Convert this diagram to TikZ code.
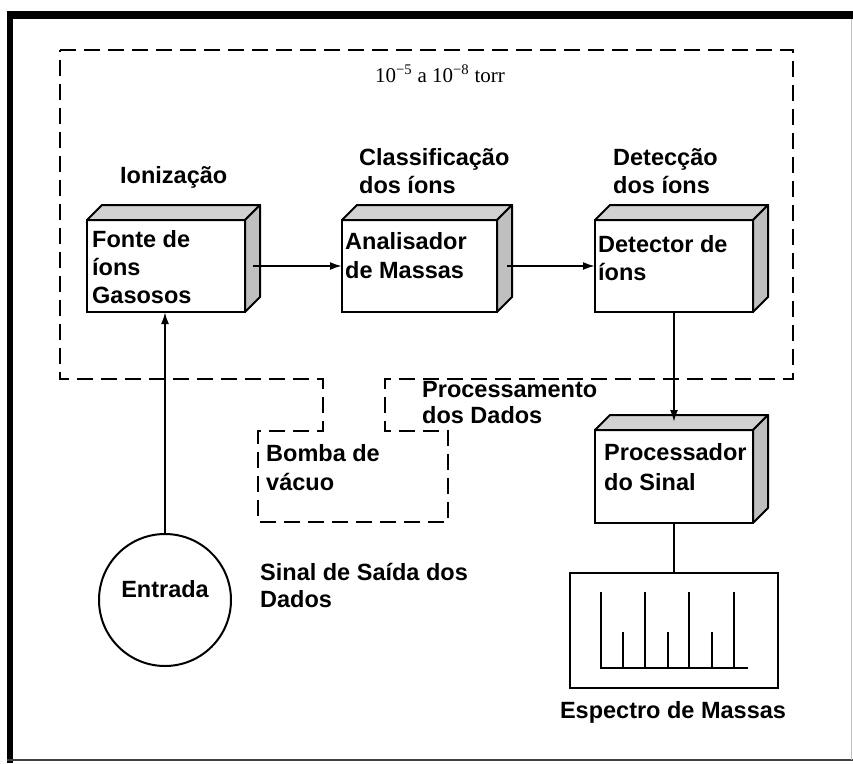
\documentclass[tikz,border=0pt]{standalone}
\usepackage{fontspec}
\setmainfont{Liberation Sans}
\newfontfamily\torrfont{Liberation Serif}
\usetikzlibrary{arrows.meta,calc}
\begin{document}
\begin{tikzpicture}[x=1pt,y=-1pt,
  box/.style={draw,line width=2pt,fill=white,anchor=north west,inner sep=0pt,outer sep=0pt},
  topface/.style={draw,line width=2pt,fill=gray!35,line join=round},
  sideface/.style={draw,line width=2pt,fill=gray!50,line join=round},
  lbl/.style={anchor=base west,inner sep=0pt,font=\fontsize{23.5}{28}\selectfont\bfseries},
  conn/.style={line width=2pt,-{Latex[length=12pt,width=8pt]}},
  plain/.style={line width=2pt},
  vac/.style={line width=2.5pt,dash pattern=on 16pt off 8pt,line join=miter},
]
\useasboundingbox (0,0) rectangle (853,763);
\fill[white] (0,0) rectangle (853,763);
% outer frame
\fill[black] (7,11) rectangle (853,19);
\fill[black] (7,11) rectangle (13,763);
\draw[black!75,line width=2pt] (7,760) -- (853,760);
\draw[black!25,line width=1pt] (851,19) -- (851,760);
% vacuum boundary
\draw[vac] (60,50) -- (793,50) -- (793,379) -- (385,379) -- (385,431) -- (448,431) -- (448,522) -- (258,522) -- (258,431) -- (323,431) -- (323,379) -- (60,379) -- cycle;
\node[anchor=base,inner sep=0pt,font=\torrfont\fontsize{21}{24}\selectfont] (torr) at (440,82) {10\textsuperscript{\char"2212 5} a 10\textsuperscript{\char"2212 8} torr};
% boxes
\node[box,minimum width=158pt,minimum height=92pt] (fonte) at (87,220) {};
\node[box,minimum width=155pt,minimum height=92pt] (anal) at (342,220) {};
\node[box,minimum width=158pt,minimum height=92pt] (det) at (595,220) {};
\node[box,minimum width=158pt,minimum height=93pt] (proc) at (595,430) {};
\foreach \n in {fonte,anal,det,proc}{
  \filldraw[topface] (\n.north west) -- ++(15,-15) -- ([shift={(15,-15)}]\n.north east) -- (\n.north east) -- cycle;
  \filldraw[sideface] (\n.north east) -- ++(15,-15) -- ([shift={(15,-15)}]\n.south east) -- (\n.south east) -- cycle;
}
% labels
\node[lbl] (ioniz) at (120,183) {Ionização};
\node[lbl] (classA) at (359,165) {Classificação};
\node[lbl] (classB) at (359,193) {dos íons};
\node[lbl] (detecA) at (613,165) {Detecção};
\node[lbl] (detecB) at (613,193) {dos íons};
\node[lbl] (fonteA) at (92,247) {Fonte de};
\node[lbl] (fonteB) at (92,275) {íons};
\node[lbl] (fonteC) at (92,303) {Gasosos};
\node[lbl] (analA) at (345,249) {Analisador};
\node[lbl] (analB) at (345,278) {de Massas};
\node[lbl] (detA) at (598,252) {Detector de};
\node[lbl] (detB) at (598,280) {íons};
\node[lbl] (procA) at (604,460) {Processador};
\node[lbl] (procB) at (604,490) {do Sinal};
\node[lbl] (bombaA) at (266,461) {Bomba de};
\node[lbl] (bombaB) at (266,490) {vácuo};
\node[lbl] (procdA) at (422,397) {Processamento};
\node[lbl] (procdB) at (422,423) {dos Dados};
\node[lbl] (sinalA) at (260,580) {Sinal de Saída dos};
\node[lbl] (sinalB) at (260,607) {Dados};
% entrada
\node[circle,draw,line width=2pt,minimum size=132pt,inner sep=0pt,outer sep=0pt] (entrada) at (165,600) {};
\node[lbl,anchor=base] (entradaT) at (165,597) {Entrada};
% spectrum
\node[draw,line width=2pt,minimum width=208pt,minimum height=115pt,anchor=north west,inner sep=0pt,outer sep=0pt] (spec) at (570,573) {};
\node[lbl,anchor=base] (specT) at (673,718) {Espectro de Massas};
\draw[plain] (600,668) -- (748,668);
\foreach \a/\b in {601/592,623/632,645/592,668/632,689/592,712/632,734/592}
  \draw[plain] (\a,668) -- (\a,\b);
% connectors
\draw[conn] ([xshift=8pt]fonte.east) -- (anal.west);
\draw[conn] ([xshift=10pt]anal.east) -- (det.west);
\draw[conn] (det.south) -- ([yshift=8pt]proc.north);
\draw[conn] (entrada.north) -- (entrada.north |- fonte.south);
\draw[plain] (proc.south) -- (spec.north);
\end{tikzpicture}
\end{document}
